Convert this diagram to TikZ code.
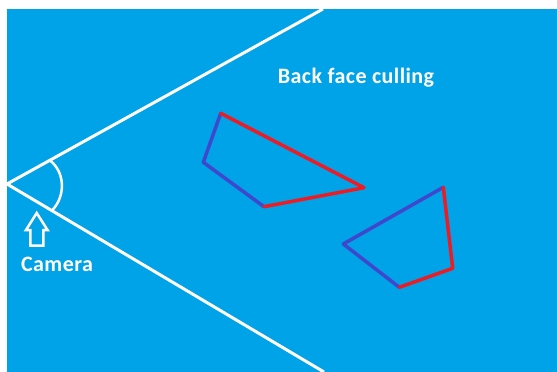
\documentclass[tikz,border=0pt]{standalone}
\usepackage{fontspec}
\setmainfont{Carlito}
\definecolor{bgblue}{HTML}{00A2E8}
\definecolor{edgered}{HTML}{ED1C24}
\definecolor{edgeblue}{HTML}{3F48CC}
\begin{document}
\begin{tikzpicture}[x=1pt,y=-1pt,
  ray/.style={white,line width=3pt},
  front/.style={edgeblue,line width=3.5pt,line cap=round,line join=round},
  back/.style={edgered,line width=3.5pt,line cap=round,line join=round},
  label/.style={white,font=\fontsize{22}{26}\selectfont\bfseries,inner sep=0pt,anchor=base}]
\useasboundingbox (0,0) rectangle (557,372);
\fill[white] (0,0) rectangle (557,372);
\fill[bgblue] (6.5,9) rectangle (557,372);
% view frustum
\coordinate (apex) at (7,184);
\coordinate (topend) at (323,9);
\coordinate (botend) at (324,372);
\draw[ray] (topend) -- (apex) -- (botend);
\coordinate (arcA) at (50,160.5);
\coordinate (arcB) at (52,210.5);
\draw[white,line width=2.5pt] (arcA) .. controls (65,172) and (66,196) .. (arcB);
% camera arrow
\draw[white,line width=2.5pt,fill=bgblue,line join=miter]
  (36.7,213) -- (47.5,230) -- (43.3,230) -- (43.3,245.5) -- (30.3,245.5) -- (30.3,230) -- (26,230) -- cycle;
\node[label] (cam) at (57,271) {\addfontfeatures{LetterSpace=2}Camera};
\node[label] (title) at (356,83.3) {\addfontfeatures{LetterSpace=2}Back face culling};
% polygon 1
\coordinate (p1t) at (220.7,113.3);
\coordinate (p1l) at (203.3,162.3);
\coordinate (p1b) at (264,206.7);
\coordinate (p1r) at (364,187.7);
\draw[front] (p1t) -- (p1l) -- (p1b);
\draw[back] (p1b) -- (p1r) -- (p1t);
% polygon 2
\coordinate (p2t) at (443.3,187.3);
\coordinate (p2l) at (343.3,244);
\coordinate (p2b) at (399.3,287.3);
\coordinate (p2r) at (452.7,268.3);
\draw[front] (p2t) -- (p2l) -- (p2b);
\draw[back] (p2b) -- (p2r) -- (p2t);
\end{tikzpicture}
\end{document}
